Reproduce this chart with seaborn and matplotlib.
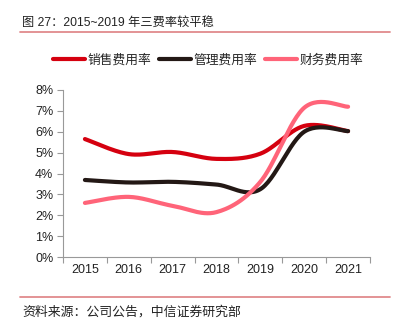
import numpy as np
import pandas as pd
import matplotlib
matplotlib.use("Agg")
import matplotlib.pyplot as plt
from matplotlib.lines import Line2D
import seaborn as sns

years = ["2015", "2016", "2017", "2018", "2019", "2020", "2021"]
sales_rate = [5.65, 4.93, 5.03, 4.70, 4.95, 6.28, 6.03]
admin_rate = [3.69, 3.57, 3.60, 3.47, 3.25, 6.00, 6.03]
finance_rate = [2.59, 2.88, 2.45, 2.15, 3.60, 7.15, 7.20]
series_names = ["销售费用率", "管理费用率", "财务费用率"]
series_colors = ["#d5000f", "#231815", "#ff6479"]

sns.set_theme(style="white")
cjk = ["Noto Sans CJK SC", "DejaVu Sans"]
latin = ["Liberation Sans", "Noto Sans CJK SC"]
plt.rcParams["font.family"] = cjk


def smooth_curve(xs, ys, steps=30):
    """Bezier smoothing through every point (control points from neighbours)."""
    xs = np.asarray(xs, float)
    ys = np.asarray(ys, float)
    n = len(xs)
    out_x, out_y = [], []
    t = np.linspace(0, 1, steps)
    for i in range(n - 1):
        p0 = np.array([xs[i], ys[i]])
        p3 = np.array([xs[i + 1], ys[i + 1]])
        prev = np.array([xs[max(i - 1, 0)], ys[max(i - 1, 0)]])
        nxt = np.array([xs[min(i + 2, n - 1)], ys[min(i + 2, n - 1)]])
        p1 = p0 + (p3 - prev) / 6.0
        p2 = p3 - (nxt - p0) / 6.0
        seg = ((1 - t) ** 3)[:, None] * p0 + (3 * (1 - t) ** 2 * t)[:, None] * p1 \
            + (3 * (1 - t) * t ** 2)[:, None] * p2 + (t ** 3)[:, None] * p3
        if i > 0:
            seg = seg[1:]
        out_x.extend(seg[:, 0])
        out_y.extend(seg[:, 1])
    return np.array(out_x), np.array(out_y)


fig = plt.figure(figsize=(4.06, 3.27), dpi=100)
ax = fig.add_axes([63 / 406, 1 - 257 / 327, 307 / 406, 167 / 327])

pos = np.arange(len(years))
frames = []
for name, vals in zip(series_names, [sales_rate, admin_rate, finance_rate]):
    sx, sy = smooth_curve(pos, vals)
    frames.append(pd.DataFrame({"x": sx, "y": sy, "series": name}))
df = pd.concat(frames, ignore_index=True)

sns.lineplot(data=df, x="x", y="y", hue="series", palette=series_colors,
             hue_order=series_names, sort=False, estimator=None,
             linewidth=3.0, ax=ax, legend=False)
for line in ax.lines:
    line.set_solid_capstyle("round")

ax.set_xlim(-0.5, len(years) - 0.5)
ax.set_ylim(0, 8)
ax.set_xlabel("")
ax.set_ylabel("")

ax.set_xticks(np.arange(-0.5, len(years), 1.0))
ax.set_xticklabels([])
ax.set_xticks(pos, minor=True)
ax.set_xticklabels(years, minor=True)
ax.tick_params(axis="x", which="major", length=4, width=0.8, color="#999999", direction="out", bottom=True)
ax.tick_params(axis="x", which="minor", length=0, pad=5, labelsize=9, labelcolor="#222222")
ax.set_yticks(range(0, 9))
ax.set_yticklabels([f"{v}%" for v in range(0, 9)])
ax.tick_params(axis="y", length=4, width=0.8, color="#999999", direction="out", left=True,
               pad=3, labelsize=9, labelcolor="#222222")
for lbl in ax.get_xticklabels(minor=True) + ax.get_yticklabels():
    lbl.set_family(latin)

for side in ["top", "right"]:
    ax.spines[side].set_visible(False)
for side in ["left", "bottom"]:
    ax.spines[side].set_color("#999999")
    ax.spines[side].set_linewidth(0.8)
ax.grid(False)

# title, separators and source note
fig.text(22 / 406, 1 - 22.5 / 327, "图 27：2015~2019 年三费率较平稳", fontsize=8.8,
         family=latin, color="#222222", va="center", ha="left")
fig.add_artist(Line2D([20 / 406, 390 / 406], [1 - 31.7 / 327] * 2, color="#e08a8c", lw=1.3))
fig.add_artist(Line2D([20 / 406, 390 / 406], [1 - 296.8 / 327] * 2, color="#e08a8c", lw=1.3))
fig.text(22 / 406, 1 - 312 / 327, "资料来源：公司公告，中信证券研究部", fontsize=9.3,
         color="#222222", va="center", ha="left")

handles = [Line2D([], [], color=c, lw=3.0) for c in series_colors]
fig.legend(handles, series_names, loc="center", bbox_to_anchor=(208 / 406, 1 - 60 / 327),
           ncol=3, frameon=False, fontsize=9.2, handlelength=2.5, handletextpad=0.2,
           columnspacing=0.6)

fig.savefig("out.png", dpi=100)
